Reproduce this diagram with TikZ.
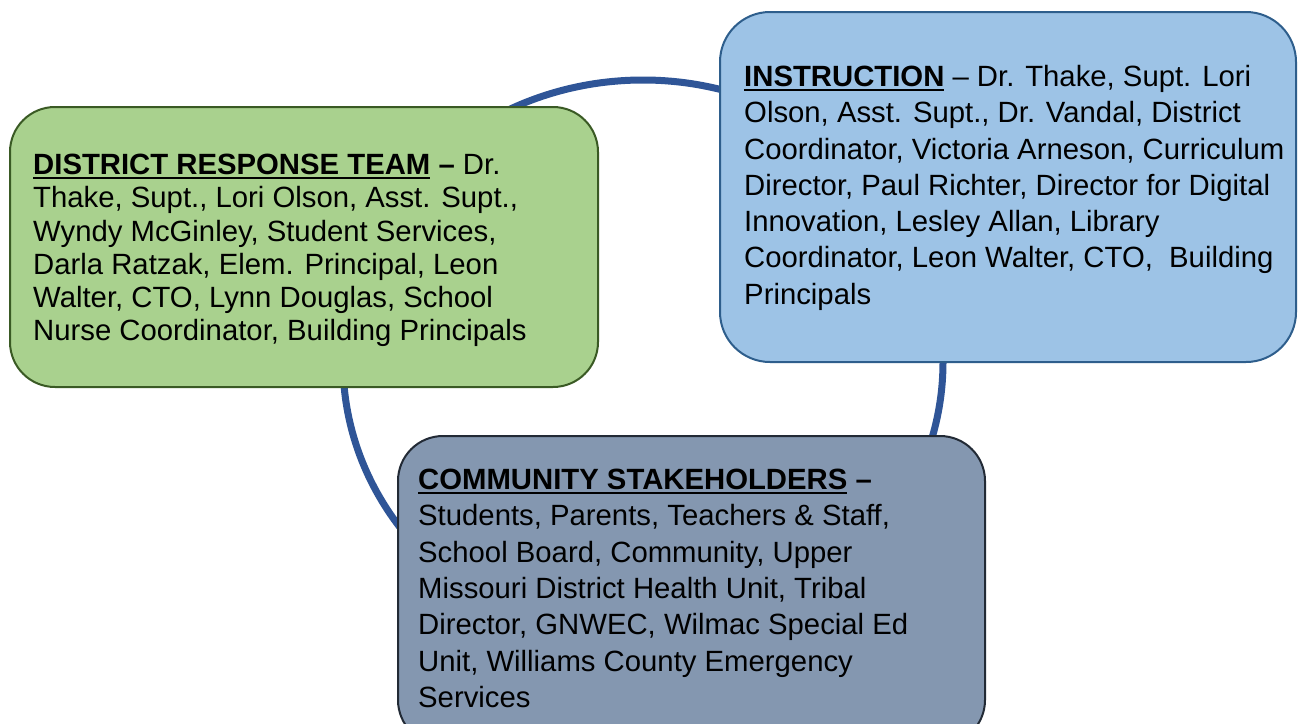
\documentclass[tikz,border=0pt]{standalone}
\usepackage{fontspec}
\setmainfont{Liberation Sans}
\definecolor{ringblue}{HTML}{2F5597}
\definecolor{greenfill}{HTML}{A9D18E}
\definecolor{greenline}{HTML}{3A5A24}
\definecolor{bluefill}{HTML}{9DC3E6}
\definecolor{blueline}{HTML}{2E5E8C}
\definecolor{slatefill}{HTML}{8497B0}
\definecolor{slateline}{HTML}{222A35}
\newcommand\myul[1]{\setbox0\hbox{#1}\rlap{\rule[-4.5pt]{\wd0}{2.4pt}}\box0\relax}
\begin{document}
\begin{tikzpicture}[x=1pt,y=-1pt,
  panel/.style={draw, line width=2pt, rounded corners=45pt, inner sep=0pt},
  txt/.style={anchor=north west, inner sep=0pt, align=left},
  single/.style={font=\fontsize{29.3}{33.2}\selectfont},
  wide/.style={font=\fontsize{29.3}{36.3}\selectfont}]
\path[use as bounding box, clip] (0,0) rectangle (1298,723);
\fill[white] (0,0) rectangle (1298,723);
\draw[ringblue, line width=7pt] (643,362) ellipse [x radius=300, y radius=282];
% boxes
\node[panel, fill=greenfill, draw=greenline, minimum width=588pt, minimum height=280pt] (drtbox) at (304,247) {};
\node[panel, fill=bluefill, draw=blueline, minimum width=576pt, minimum height=350pt, rounded corners=50pt] (insbox) at (1008,187) {};
\node[panel, fill=slatefill, draw=slateline, minimum width=587pt, minimum height=309pt] (combox) at (691.5,590.5) {};
% texts
\node[txt, single] (drt) at (33,154) {\textbf{\myul{DISTRICT RESPONSE TEAM} –} Dr.\\
Thake, Supt., Lori Olson, Asst. Supt.,\\
Wyndy McGinley, Student Services,\\
Darla Ratzak, Elem. Principal, Leon\\
Walter, CTO, Lynn Douglas, School\\
Nurse Coordinator, Building Principals};
\node[txt, wide] (ins) at (744,65) {\textbf{\myul{INSTRUCTION}} – Dr. Thake, Supt. Lori\\
Olson, Asst. Supt., Dr. Vandal, District\\
Coordinator, Victoria Arneson, Curriculum\\
Director, Paul Richter, Director for Digital\\
Innovation, Lesley Allan, Library\\
Coordinator, Leon Walter, CTO,~ Building\\
Principals};
\node[txt, wide] (com) at (418,469) {\textbf{\myul{COMMUNITY STAKEHOLDERS} –}\\
Students, Parents, Teachers \& Staff,\\
School Board, Community, Upper\\
Missouri District Health Unit, Tribal\\
Director, GNWEC, Wilmac Special Ed\\
Unit, Williams County Emergency\\
Services};
\end{tikzpicture}
\end{document}
